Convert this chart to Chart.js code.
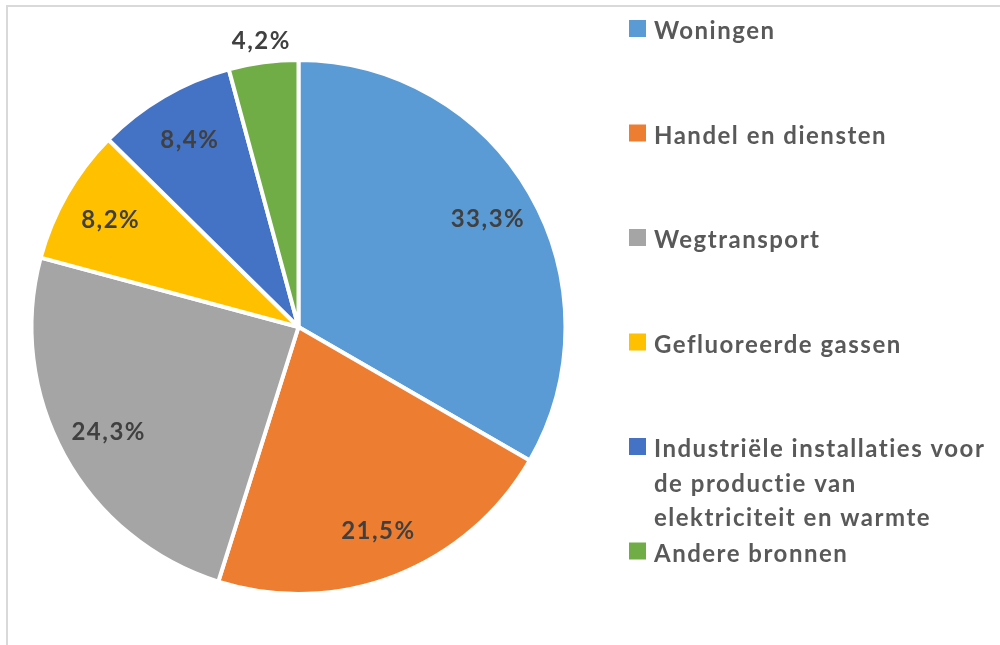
<!DOCTYPE html>
<html>
<head>
<meta charset="utf-8">
<script src="https://cdn.jsdelivr.net/npm/chart.js@4.4.1/dist/chart.umd.min.js"></script>
<style>
  html, body { margin: 0; padding: 0; background: #ffffff; overflow: hidden; }
  #wrap { position: relative; width: 1000px; height: 645px; }
  #frame { position: absolute; left: 6px; top: 5px; width: 1100px; height: 800px; border-left: 2px solid #d9d9d9; border-top: 2px solid #d9d9d9; }
  canvas { position: absolute; left: 0; top: 0; }
</style>
</head>
<body>
<div id="wrap">
  <div id="frame"></div>
  <canvas id="c" width="1000" height="645"></canvas>
</div>
<script>
const categories = [
  'Woningen',
  'Handel en diensten',
  'Wegtransport',
  'Gefluoreerde gassen',
  ['Industriële installaties voor', 'de productie van', 'elektriciteit en warmte'],
  'Andere bronnen'
];
const shares = [33.3, 21.5, 24.3, 8.2, 8.4, 4.2];
const valueLabels = ['33,3%', '21,5%', '24,3%', '8,2%', '8,4%', '4,2%'];
const colors = ['#5B9BD5', '#ED7D31', '#A5A5A5', '#FFC000', '#4472C4', '#70AD47'];

const FONT = 'Lato, "Open Sans", sans-serif';

const labelPlugin = {
  id: 'sliceLabels',
  afterDatasetsDraw(chart) {
    const ctx = chart.ctx;
    const meta = chart.getDatasetMeta(0);
    ctx.save();
    ctx.font = 'bold 24px ' + FONT;
    if ('letterSpacing' in ctx) ctx.letterSpacing = '1.5px';
    ctx.fillStyle = '#404040';
    ctx.textAlign = 'center';
    ctx.textBaseline = 'middle';
    meta.data.forEach((arc, i) => {
      const p = arc.getProps(['x', 'y', 'startAngle', 'endAngle', 'outerRadius'], true);
      const mid = (p.startAngle + p.endAngle) / 2;
      const frac = (p.endAngle - p.startAngle) / (2 * Math.PI);
      const f = frac < 0.05 ? 1.085 : 0.815;
      const r = p.outerRadius * f;
      ctx.fillText(valueLabels[i], p.x + Math.cos(mid) * r + 1, p.y + Math.sin(mid) * r + 1);
    });
    ctx.restore();
  }
};

const legendPlugin = {
  id: 'sideLegend',
  afterDraw(chart) {
    const ctx = chart.ctx;
    const labels = chart.data.labels;
    const bg = chart.data.datasets[0].backgroundColor;
    ctx.save();
    ctx.font = 'bold 24px ' + FONT;
    if ('letterSpacing' in ctx) ctx.letterSpacing = '1.5px';
    ctx.textAlign = 'left';
    ctx.textBaseline = 'alphabetic';
    const x0 = 629, tx = 654, base0 = 39, slot = 104.5, lineH = 34.5;
    labels.forEach((lab, i) => {
      const b = base0 + i * slot;
      ctx.fillStyle = bg[i];
      ctx.fillRect(x0, b - 19, 17, 17);
      ctx.fillStyle = '#595959';
      const lines = Array.isArray(lab) ? lab : [lab];
      lines.forEach((ln, j) => ctx.fillText(ln, tx, b + j * lineH));
    });
    ctx.restore();
  }
};

new Chart(document.getElementById('c'), {
  type: 'pie',
  data: {
    labels: categories,
    datasets: [{
      data: shares,
      backgroundColor: colors,
      borderColor: '#ffffff',
      borderWidth: 4
    }]
  },
  options: {
    responsive: false,
    animation: false,
    layout: { padding: { left: 29, right: 432, top: 58, bottom: 49 } },
    plugins: {
      legend: { display: false },
      tooltip: { enabled: false }
    }
  },
  plugins: [labelPlugin, legendPlugin]
});
</script>
</body>
</html>
